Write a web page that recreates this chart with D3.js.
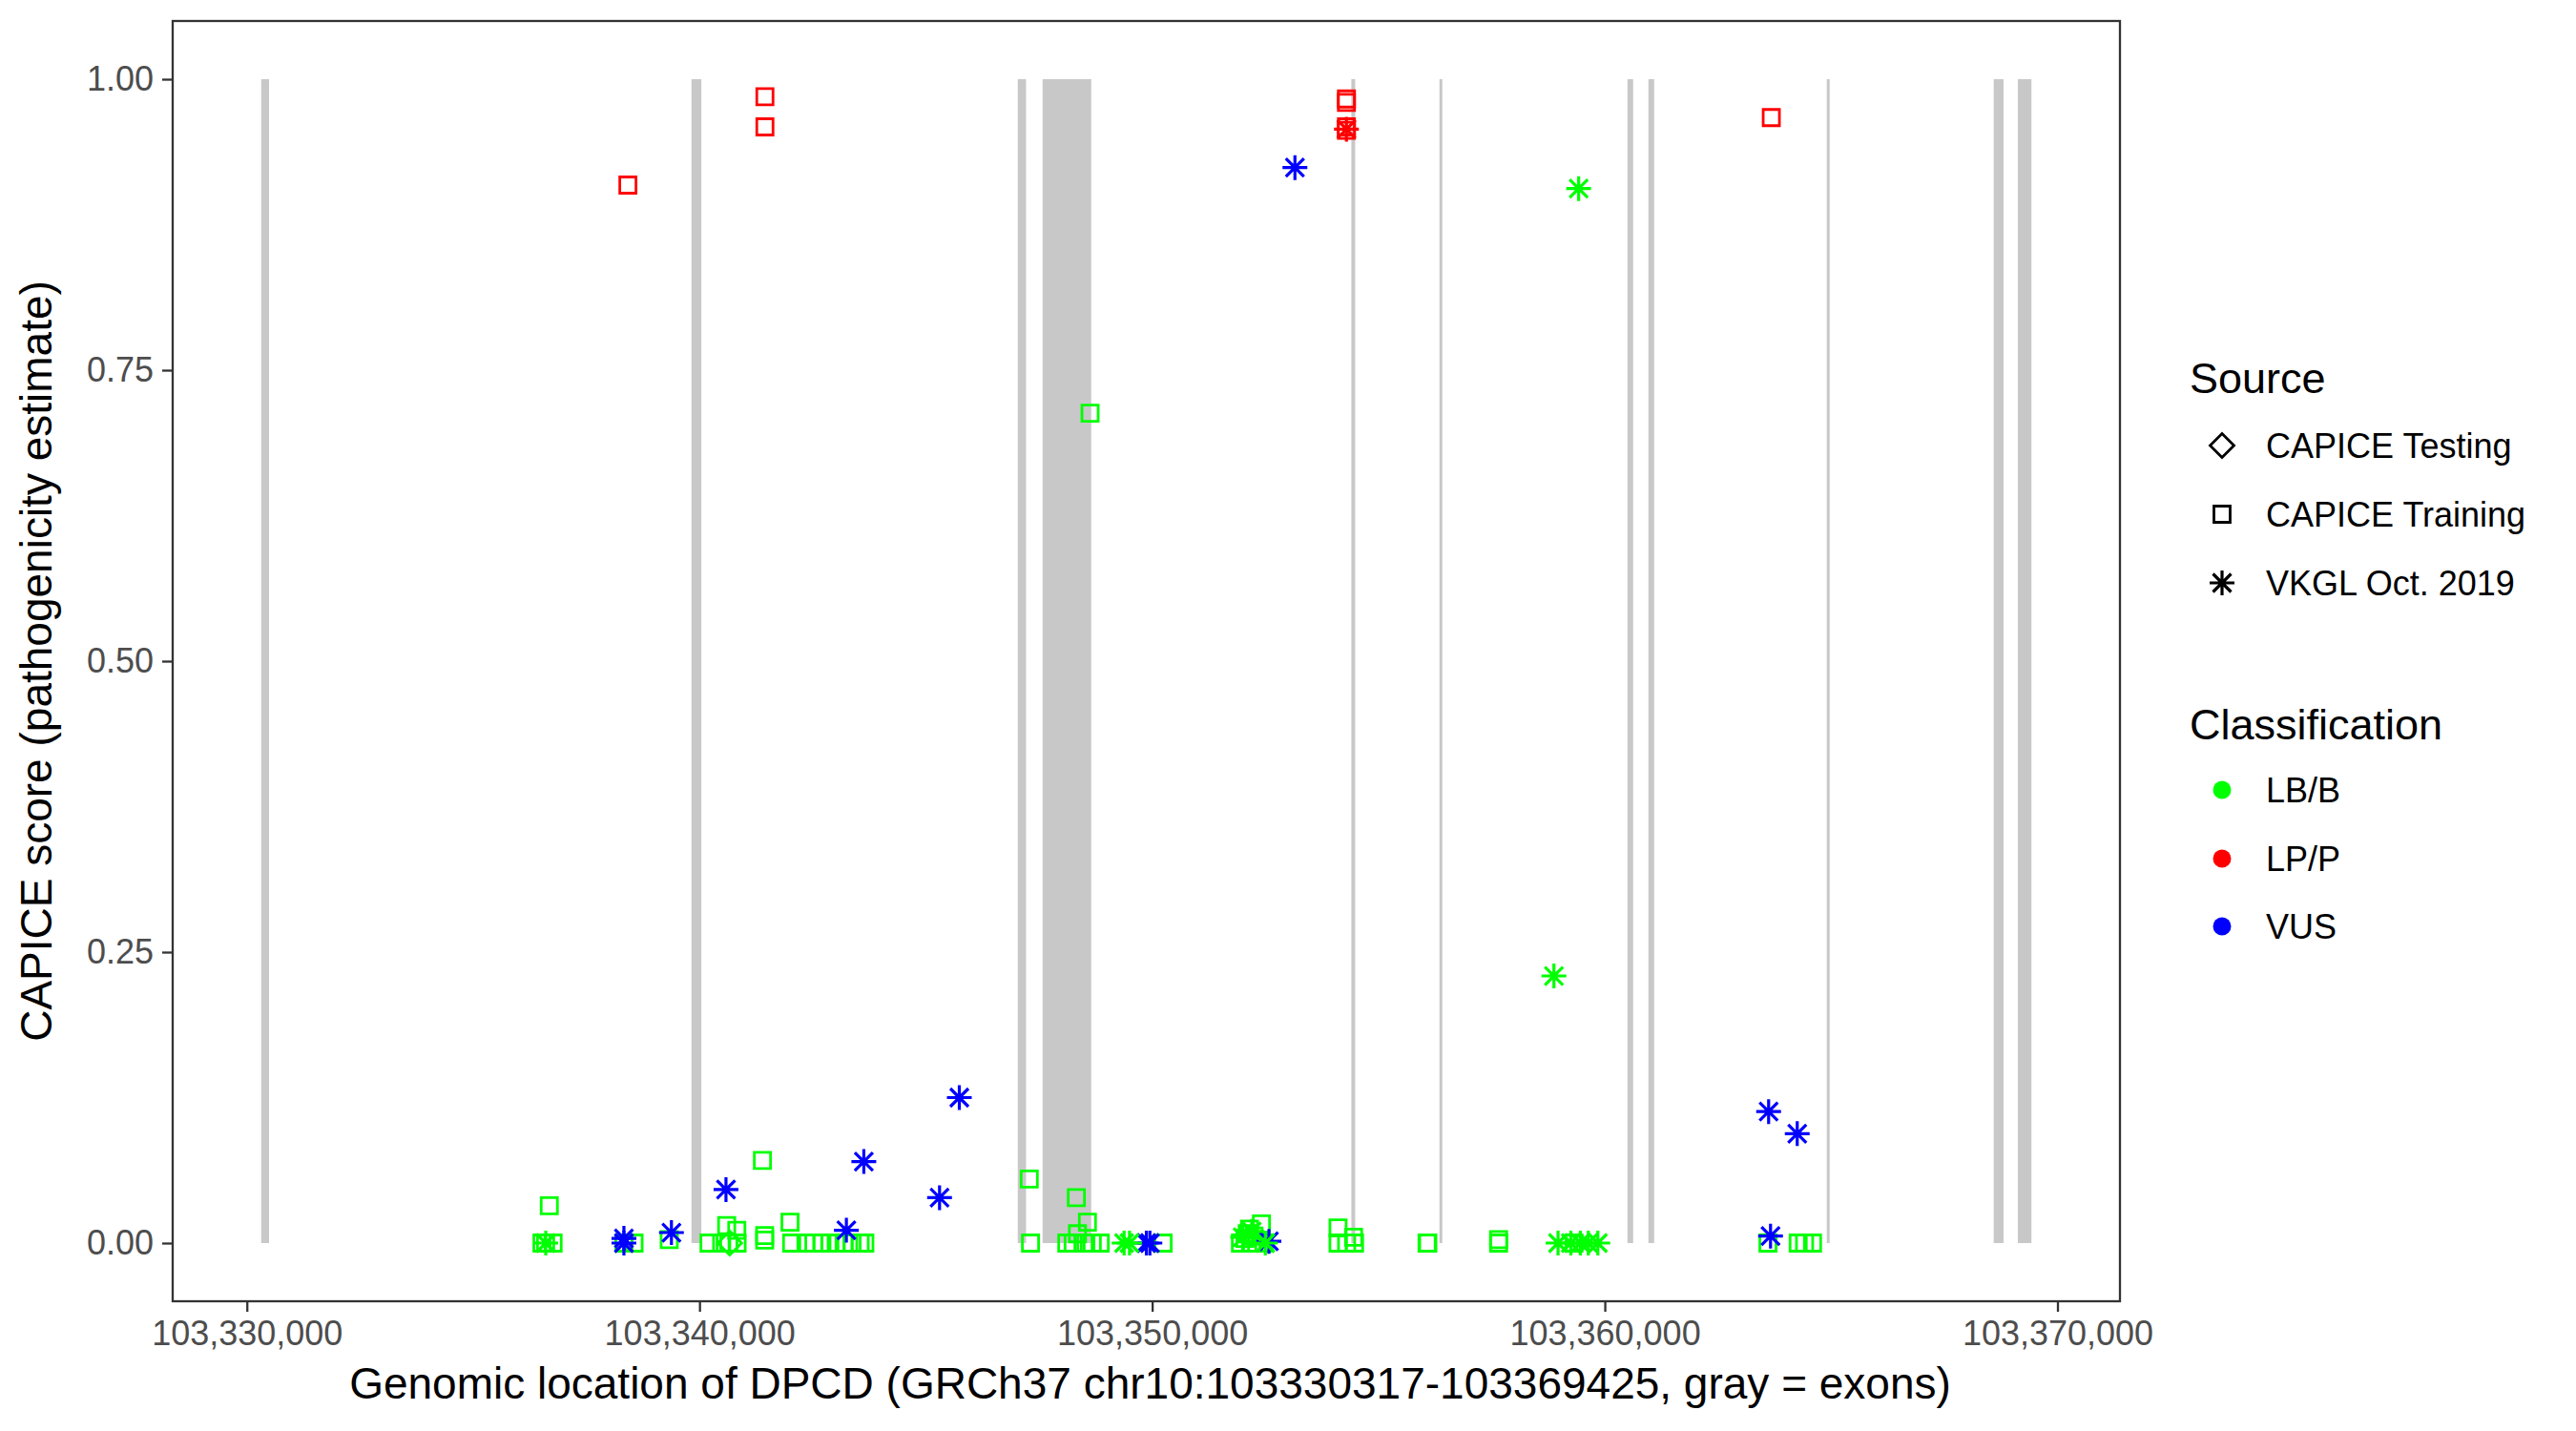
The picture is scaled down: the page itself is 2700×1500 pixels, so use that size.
<!DOCTYPE html>
<html>
<head>
<meta charset="utf-8">
<script src="https://cdn.jsdelivr.net/npm/d3@7"></script>
<style>
  body { margin: 0; background: #fff; }
  text { font-family: "Liberation Sans", Arial, sans-serif; }
</style>
</head>
<body>
<div id="chart"></div>
<script>
// gene region and exons (GRCh37 chr10)
const GENE_START = 103330317;
const GENE_END = 103369425;
const OFFSET = 103330000;

const exonStart = [317, 9822, 17031, 17579, 24401, 26347, 30500, 30963, 34904, 38591, 39124];
const exonEnd   = [490, 10041, 17214, 18654, 24485, 26410, 30626, 31090, 34967, 38809, 39425];

// CAPICE Training (squares), position offset from 103,330,000
const trainPos = [8418, 11445, 11445, 24292, 24292, 24292, 24292, 33678,
  18628, 6682, 6520, 6600, 6766, 8330, 8554, 9331,
  10210, 10490, 10647, 10831, 10600, 10824, 11390, 11440, 11440, 12000,
  12036, 12352, 12527, 12704, 12879, 13020, 13195, 13370, 13548, 13653,
  17285, 17312, 18325, 18570, 18350, 18114, 18255, 18536, 18677, 18852, 20242,
  21950, 22050, 22100, 22150, 22200, 22250, 22415, 22470,
  24106, 24106, 24296, 24471, 24450, 26073, 26090, 27654, 27654, 29320,
  33604, 34272, 34413, 34589];
const trainScore = [0.909, 0.985, 0.959, 0.983, 0.980, 0.956, 0.959, 0.967,
  0.713, 0.032, 0, 0, 0, 0, 0, 0.003,
  0, 0, 0, 0, 0.015, 0.011, 0.071, 0.0065, 0.0025, 0.018,
  0, 0, 0, 0, 0, 0, 0, 0, 0, 0,
  0.055, 0, 0.039, 0.018, 0.008, 0, 0, 0, 0, 0, 0,
  0, 0.004, 0.008, 0.012, 0, 0.006, 0.0165, 0,
  0.013, 0, 0, 0, 0.005, 0, 0, 0, 0.003, 0,
  0, 0, 0, 0];
const trainClass = ["LP/P", "LP/P", "LP/P", "LP/P", "LP/P", "LP/P", "LP/P", "LP/P",
  "LB/B", "LB/B", "LB/B", "LB/B", "LB/B", "LB/B", "LB/B", "LB/B",
  "LB/B", "LB/B", "LB/B", "LB/B", "LB/B", "LB/B", "LB/B", "LB/B", "LB/B", "LB/B",
  "LB/B", "LB/B", "LB/B", "LB/B", "LB/B", "LB/B", "LB/B", "LB/B", "LB/B", "LB/B",
  "LB/B", "LB/B", "LB/B", "LB/B", "LB/B", "LB/B", "LB/B", "LB/B", "LB/B", "LB/B", "LB/B",
  "LB/B", "LB/B", "LB/B", "LB/B", "LB/B", "LB/B", "LB/B", "LB/B",
  "LB/B", "LB/B", "LB/B", "LB/B", "LB/B", "LB/B", "LB/B", "LB/B", "LB/B", "LB/B",
  "LB/B", "LB/B", "LB/B", "LB/B"];

// VKGL Oct. 2019 (asterisks)
const vkglPos = [24292, 23154, 15740, 13630, 15303, 10585, 13245, 9380, 8330, 8330,
  19872, 19950, 22580, 33619, 34251, 33661,
  28876, 29422, 6604, 19380, 19500, 22000, 22200, 22500,
  28967, 29249, 29460, 29635, 29846];
const vkglScore = [0.957, 0.924, 0.125, 0.070, 0.039, 0.046, 0.011, 0.009, 0.004, 0,
  0, 0, 0.0015, 0.113, 0.094, 0.006,
  0.2295, 0.906, 0, 0, 0, 0.005, 0.010, 0,
  0, 0, 0, 0, 0];
const vkglClass = ["LP/P", "VUS", "VUS", "VUS", "VUS", "VUS", "VUS", "VUS", "VUS", "VUS",
  "VUS", "VUS", "VUS", "VUS", "VUS", "VUS",
  "LB/B", "LB/B", "LB/B", "LB/B", "LB/B", "LB/B", "LB/B", "LB/B",
  "LB/B", "LB/B", "LB/B", "LB/B", "LB/B"];

// CAPICE Testing (diamonds)
const testPos = [10667];
const testScore = [0];
const testClass = ["LB/B"];

const sources = ["CAPICE Testing", "CAPICE Training", "VKGL Oct. 2019"];
const classes = ["LB/B", "LP/P", "VUS"];
const classColors = ["#00ff00", "#ff0000", "#0000ff"];
const yTicks = [0, 0.25, 0.5, 0.75, 1];
const xTicks = [103330000, 103340000, 103350000, 103360000, 103370000];

const WIDTH = 2700, HEIGHT = 1500;
const PANEL = {left: 181, right: 2222, top: 22, bottom: 1364};

const svg = d3.select("#chart").append("svg")
  .attr("width", WIDTH).attr("height", HEIGHT);

const span = GENE_END - GENE_START;
const X_SCALE = d3.scaleLinear()
  .domain([GENE_START - 0.05 * span, GENE_END + 0.05 * span])
  .range([PANEL.left, PANEL.right]);
const Y_SCALE = d3.scaleLinear()
  .domain([-0.05, 1.05])
  .range([PANEL.bottom, PANEL.top]);
const COLOR = d3.scaleOrdinal().domain(classes).range(classColors);

// shape path builders
function squarePath(s) {
  const h = s / 2;
  return `M${-h},${-h}H${h}V${h}H${-h}Z`;
}
function diamondPath(r) {
  return `M0,${-r}L${r},0L0,${r}L${-r},0Z`;
}
function asteriskPath(r, d) {
  return `M0,${-r}V${r}M${-r},0H${r}M${-d},${-d}L${d},${d}M${-d},${d}L${d},${-d}`;
}
const SHAPES = {
  "CAPICE Testing": diamondPath(12.5),
  "CAPICE Training": squarePath(17),
  "VKGL Oct. 2019": asteriskPath(13, 9.5)
};
const STROKE = {"CAPICE Testing": 2.8, "CAPICE Training": 2.8, "VKGL Oct. 2019": 3.2};

// exons
const exons = exonStart.map((s, i) => ({s: OFFSET + s, e: OFFSET + exonEnd[i]}));
svg.append("g").selectAll("rect").data(exons).join("rect")
  .attr("x", d => X_SCALE(d.s))
  .attr("width", d => Math.max(2, X_SCALE(d.e) - X_SCALE(d.s)))
  .attr("y", Y_SCALE(1))
  .attr("height", Y_SCALE(0) - Y_SCALE(1))
  .attr("fill", "#c8c8c8");

// points
const points = [];
trainPos.forEach((p, i) => points.push({pos: OFFSET + p, score: trainScore[i], cls: trainClass[i], src: "CAPICE Training"}));
vkglPos.forEach((p, i) => points.push({pos: OFFSET + p, score: vkglScore[i], cls: vkglClass[i], src: "VKGL Oct. 2019"}));
testPos.forEach((p, i) => points.push({pos: OFFSET + p, score: testScore[i], cls: testClass[i], src: "CAPICE Testing"}));

svg.append("g").selectAll("path").data(points).join("path")
  .attr("transform", d => `translate(${X_SCALE(d.pos)},${Y_SCALE(d.score)})`)
  .attr("d", d => SHAPES[d.src])
  .attr("fill", "none")
  .attr("stroke", d => COLOR(d.cls))
  .attr("stroke-width", d => STROKE[d.src]);

// panel border
svg.append("rect")
  .attr("x", PANEL.left).attr("y", PANEL.top)
  .attr("width", PANEL.right - PANEL.left).attr("height", PANEL.bottom - PANEL.top)
  .attr("fill", "none").attr("stroke", "#333333").attr("stroke-width", 2.3);

// x axis
const xAxis = svg.append("g")
  .attr("transform", `translate(0,${PANEL.bottom})`)
  .call(d3.axisBottom(X_SCALE).tickValues(xTicks).tickFormat(d3.format(",")).tickSizeInner(11).tickSizeOuter(0).tickPadding(9));
xAxis.select(".domain").remove();
xAxis.selectAll("line").attr("stroke", "#333333").attr("stroke-width", 2.3);
xAxis.selectAll("text").attr("font-size", 36).attr("fill", "#4d4d4d")
  .attr("font-family", "Liberation Sans, Arial, sans-serif");

// y axis
const yAxis = svg.append("g")
  .attr("transform", `translate(${PANEL.left},0)`)
  .call(d3.axisLeft(Y_SCALE).tickValues(yTicks).tickFormat(d3.format(".2f")).tickSizeInner(11).tickSizeOuter(0).tickPadding(9));
yAxis.select(".domain").remove();
yAxis.selectAll("line").attr("stroke", "#333333").attr("stroke-width", 2.3);
yAxis.selectAll("text").attr("font-size", 36).attr("fill", "#4d4d4d")
  .attr("font-family", "Liberation Sans, Arial, sans-serif");

// axis titles
svg.append("text")
  .attr("x", (PANEL.left + PANEL.right) / 2 + 4).attr("y", 1466)
  .attr("text-anchor", "middle").attr("font-size", 46).attr("fill", "#000")
  .text("Genomic location of DPCD (GRCh37 chr10:103330317-103369425, gray = exons)");
svg.append("text")
  .attr("transform", `translate(54,${(PANEL.top + PANEL.bottom) / 2}) rotate(-90)`)
  .attr("text-anchor", "middle").attr("font-size", 46).attr("fill", "#000")
  .text("CAPICE score (pathogenicity estimate)");

// legends
const LEG_X = 2295, SYM_X = 2329, TXT_X = 2375;
const legend = svg.append("g");
legend.append("text").attr("x", LEG_X).attr("y", 412).attr("font-size", 45).text("Source");
const srcY = [467, 539, 611];
sources.forEach((s, i) => {
  legend.append("path")
    .attr("transform", `translate(${SYM_X},${srcY[i]})`)
    .attr("d", SHAPES[s]).attr("fill", "none").attr("stroke", "#000").attr("stroke-width", STROKE[s]);
  legend.append("text").attr("x", TXT_X).attr("y", srcY[i]).attr("dy", "0.35em")
    .attr("font-size", 36).text(s);
});
legend.append("text").attr("x", LEG_X).attr("y", 775).attr("font-size", 45).text("Classification");
const clsY = [828, 900, 971];
classes.forEach((c, i) => {
  legend.append("circle").attr("cx", SYM_X).attr("cy", clsY[i]).attr("r", 9.5)
    .attr("fill", COLOR(c));
  legend.append("text").attr("x", TXT_X).attr("y", clsY[i]).attr("dy", "0.35em")
    .attr("font-size", 36).text(c);
});
</script>
</body>
</html>
